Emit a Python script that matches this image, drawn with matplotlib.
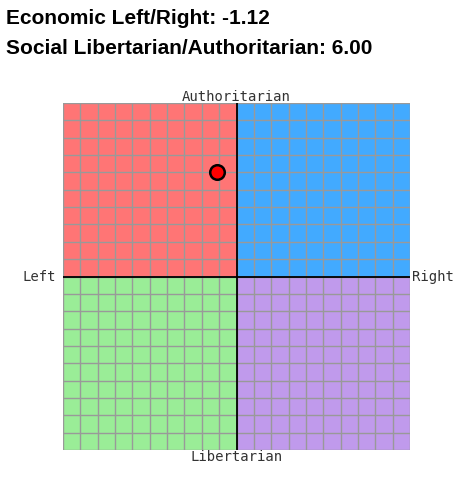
import matplotlib
matplotlib.use("Agg")
import matplotlib.pyplot as plt
from matplotlib.patches import Rectangle
import numpy as np

economic = [-1.12]
social = [6.00]
quadrant_colors = ["#FF7575", "#42AAFF", "#9AED97", "#C09AEC"]  # TL, TR, BL, BR
title_lines = ["Economic Left/Right: -1.12", "Social Libertarian/Authoritarian: 6.00"]
axis_labels = ["Authoritarian", "Libertarian", "Left", "Right"]

W, H = 465, 479
fig = plt.figure(figsize=(W/100, H/100), dpi=100)
ax = fig.add_axes([63/W, (H-450)/H, 347/W, 347/H])
ax.set_xlim(-10, 10); ax.set_ylim(-10, 10)
for (x0, y0), c in zip([(-10, 0), (0, 0), (-10, -10), (0, -10)], quadrant_colors):
    ax.add_patch(Rectangle((x0, y0), 10, 10, color=c, lw=0, zorder=0))
for v in np.arange(-10, 11, 1):
    ax.axvline(v, color="#999999", lw=1, zorder=1)
    ax.axhline(v, color="#999999", lw=1, zorder=1)
ax.axvline(0, color="black", lw=1.3, zorder=2)
ax.axhline(0, color="black", lw=1.3, zorder=2)
ax.scatter(economic, social, s=110, color="red", edgecolor="black", linewidth=1.8, zorder=5)
ax.set_xticks([]); ax.set_yticks([])
for s in ax.spines.values():
    s.set_visible(False)

mono = dict(family="DejaVu Sans Mono", fontsize=10, color="#333333")
fig.text(236.5/W, 1-97/H, axis_labels[0], ha="center", va="center", **mono)
fig.text(236.5/W, 1-457/H, axis_labels[1], ha="center", va="center", **mono)
fig.text(39/W, 1-277/H, axis_labels[2], ha="center", va="center", **mono)
fig.text(433/W, 1-277/H, axis_labels[3], ha="center", va="center", **mono)

tfont = dict(family="Liberation Sans", fontsize=15, fontweight="bold")
fig.text(6/W, 1-18/H, title_lines[0], ha="left", va="center", **tfont)
fig.text(6/W, 1-48/H, title_lines[1], ha="left", va="center", **tfont)
fig.savefig("out.png", dpi=100)
